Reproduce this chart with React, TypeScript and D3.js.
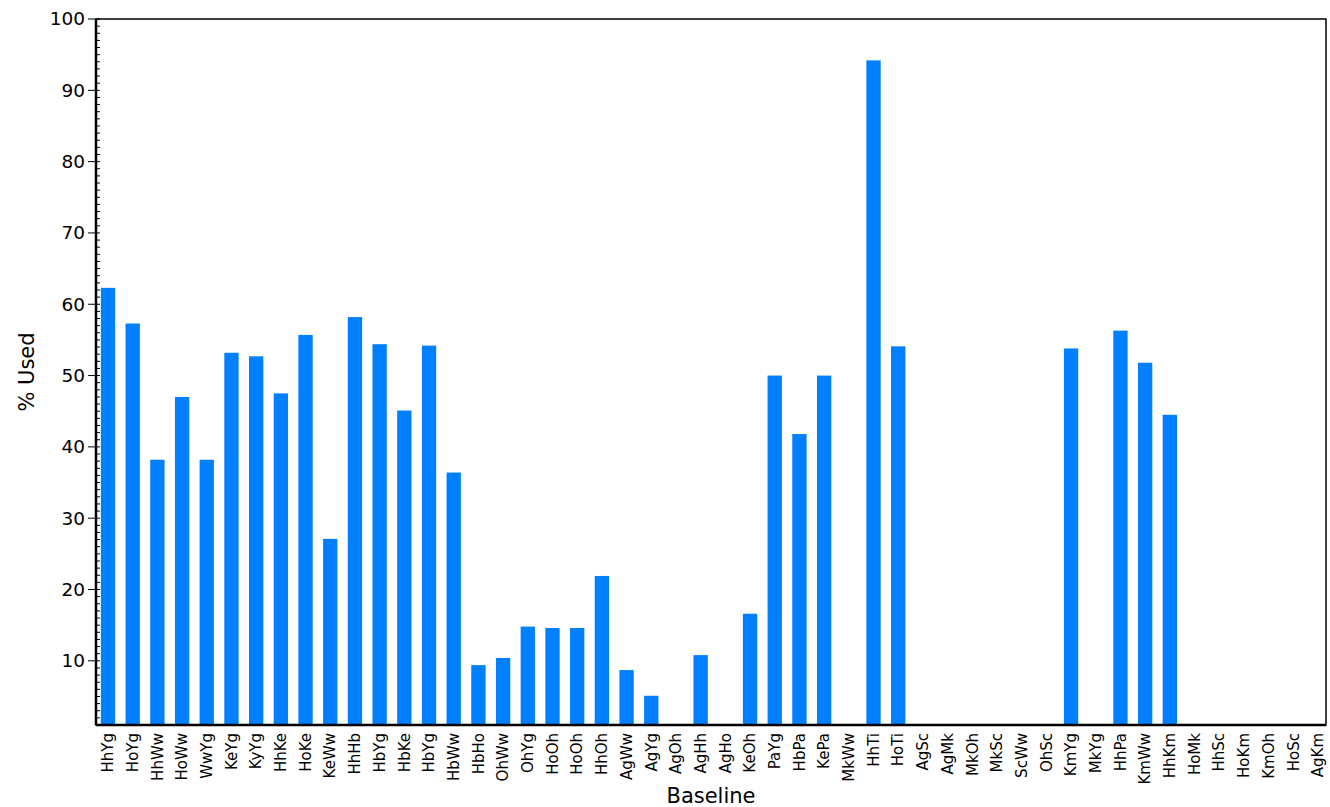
import * as d3 from "d3";

const categories = ["HhYg","HoYg","HhWw","HoWw","WwYg","KeYg","KyYg","HhKe","HoKe","KeWw","HhHb","HbYg","HbKe","HbYg","HbWw","HbHo","OhWw","OhYg","HoOh","HoOh","HhOh","AgWw","AgYg","AgOh","AgHh","AgHo","KeOh","PaYg","HbPa","KePa","MkWw","HhTi","HoTi","AgSc","AgMk","MkOh","MkSc","ScWw","OhSc","KmYg","MkYg","HhPa","KmWw","HhKm","HoMk","HhSc","HoKm","KmOh","HoSc","AgKm"];
const used = [62.3,57.3,38.2,47,38.2,53.2,52.7,47.5,55.7,27.1,58.2,54.4,45.1,54.2,36.4,9.4,10.4,14.8,14.6,14.6,21.9,8.7,5.1,0,10.8,0,16.6,50,41.8,50,0,94.2,54.1,0,0,0,0,0,0,53.8,0,56.3,51.8,44.5,0,0,0,0,0,0];
const yTicks = [10,20,30,40,50,60,70,80,90,100];

export default function App() {
  const W = 1330, H = 807;
  const left = 96, right = 1326, top = 19, bottom = 725;
  const x = d3.scaleBand<number>().domain(d3.range(categories.length)).range([left, 1330]).paddingInner(0.42).paddingOuter(0.196);
  const y = d3.scaleLinear().domain([1, 100]).range([bottom, top]);
  const font = "Verdana, 'DejaVu Sans', sans-serif";
  const minor = d3.range(2, 101);
  return (
    <svg width={W} height={H} style={{ position: "absolute", left: 0, top: 0 }} fontFamily={font}>
      <rect x={0} y={0} width={W} height={H} fill="white" />
      {used.map((v, i) => v > 0 && (
        <rect key={i} x={x(i)} y={y(v)} width={x.bandwidth()} height={bottom - y(v)} fill="#0080ff" />
      ))}
      <rect x={left} y={top} width={right - left} height={bottom - top} fill="none" stroke="black" strokeWidth={1.5} />
      <line x1={left} x2={left} y1={top} y2={bottom} stroke="black" strokeWidth={2.5} />
      <line x1={left} x2={right} y1={bottom} y2={bottom} stroke="black" strokeWidth={2.5} />
      {minor.map(t => (
        <line key={t} x1={left} x2={left + 4} y1={y(t)} y2={y(t)} stroke="black" strokeWidth={1} />
      ))}
      {yTicks.map(t => (
        <g key={t}>
          <line x1={left - 8} x2={left} y1={y(t)} y2={y(t)} stroke="black" strokeWidth={1} />
          <text x={left - 11} y={y(t)} dy="0.35em" textAnchor="end" fontSize={18.5}>{t}</text>
        </g>
      ))}
      {categories.map((c, i) => {
        const cx = x(i)! + x.bandwidth() / 2;
        return (
          <text key={i} transform={`translate(${cx},${bottom + 8}) rotate(-90)`} textAnchor="end" dy="0.35em" fontSize={15}>{c}</text>
        );
      })}
      <text x={(left + right) / 2} y={803} textAnchor="middle" fontSize={21}>Baseline</text>
      <text transform={`translate(34,${(top + bottom) / 2}) rotate(-90)`} textAnchor="middle" fontSize={21}>% Used</text>
    </svg>
  );
}
